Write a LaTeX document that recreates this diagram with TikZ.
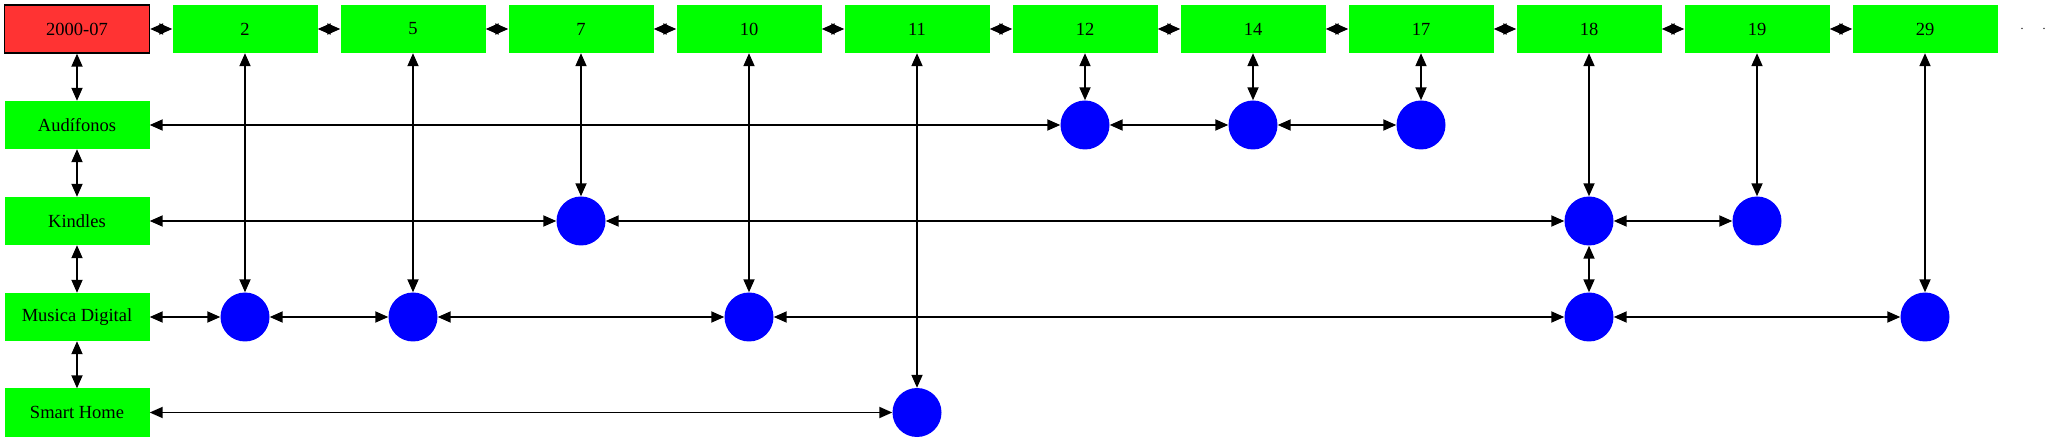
\documentclass[tikz,border=0pt]{standalone}
\usepackage{fontspec}
\setmainfont{Liberation Serif}
\usetikzlibrary{arrows.meta}
\definecolor{gbox}{RGB}{0,255,0}
\definecolor{rbox}{RGB}{255,51,51}
\definecolor{bdot}{RGB}{0,0,255}
\tikzset{
  box/.style={rectangle, fill=gbox, minimum width=145pt, minimum height=48pt, inner sep=0pt, font=\fontsize{18.5}{20}\selectfont},
  datebox/.style={box, fill=rbox, draw=black, line width=1.3pt},
  dotnode/.style={circle, fill=bdot, minimum size=49pt, inner sep=0pt},
  link/.style={line width=1.8pt, {Triangle[length=13pt,width=11pt]}-{Triangle[length=13pt,width=11pt]}}
}
\begin{document}
\begin{tikzpicture}[x=1pt,y=-1pt]
\useasboundingbox (0,0) rectangle (2051,443);
\def\cx#1{77+168*#1}
\node[datebox] (d) at (77,29) {2000-07};
\node[box] (t1) at ({\cx{1}},29) {2};
\node[box] (t2) at ({\cx{2}},29) {5};
\node[box] (t3) at ({\cx{3}},29) {7};
\node[box] (t4) at ({\cx{4}},29) {10};
\node[box] (t5) at ({\cx{5}},29) {11};
\node[box] (t6) at ({\cx{6}},29) {12};
\node[box] (t7) at ({\cx{7}},29) {14};
\node[box] (t8) at ({\cx{8}},29) {17};
\node[box] (t9) at ({\cx{9}},29) {18};
\node[box] (t10) at ({\cx{10}},29) {19};
\node[box] (t11) at ({\cx{11}},29) {29};
\node[font=\fontsize{12}{12}\selectfont, inner sep=0pt] (dots) at (2033,29) {.\hspace{19pt}.};

\node[box] (A) at (77,125) {Audífonos};
\node[box] (K) at (77,221) {Kindles};
\node[box] (M) at (77,317) {Musica Digital};
\node[box] (S) at (77,412.5) {Smart Home};

% Audifonos row
\node[dotnode] (a6) at ({\cx{6}},125) {};
\node[dotnode] (a7) at ({\cx{7}},125) {};
\node[dotnode] (a8) at ({\cx{8}},125) {};
% Kindles row
\node[dotnode] (k3) at ({\cx{3}},221) {};
\node[dotnode] (k9) at ({\cx{9}},221) {};
\node[dotnode] (k10) at ({\cx{10}},221) {};
% Musica row
\node[dotnode] (m1) at ({\cx{1}},317) {};
\node[dotnode] (m2) at ({\cx{2}},317) {};
\node[dotnode] (m4) at ({\cx{4}},317) {};
\node[dotnode] (m9) at ({\cx{9}},317) {};
\node[dotnode] (m11) at ({\cx{11}},317) {};
% Smart home row
\node[dotnode] (s5) at ({\cx{5}},412.5) {};

% top row chain
\draw[link] (d) -- (t1);
\draw[link] (t1) -- (t2);
\draw[link] (t2) -- (t3);
\draw[link] (t3) -- (t4);
\draw[link] (t4) -- (t5);
\draw[link] (t5) -- (t6);
\draw[link] (t6) -- (t7);
\draw[link] (t7) -- (t8);
\draw[link] (t8) -- (t9);
\draw[link] (t9) -- (t10);
\draw[link] (t10) -- (t11);

% first column
\draw[link] (d) -- (A);
\draw[link] (A) -- (K);
\draw[link] (K) -- (M);
\draw[link] (M) -- (S);

% row links
\draw[link] (A) -- (a6);
\draw[link] (a6) -- (a7);
\draw[link] (a7) -- (a8);
\draw[link] (K) -- (k3);
\draw[link] (k3) -- (k9);
\draw[link] (k9) -- (k10);
\draw[link] (M) -- (m1);
\draw[link] (m1) -- (m2);
\draw[link] (m2) -- (m4);
\draw[link] (m4) -- (m9);
\draw[link] (m9) -- (m11);
\draw[link] (S) -- (s5);

% vertical links
\draw[link] (t1) -- (m1);
\draw[link] (t2) -- (m2);
\draw[link] (t3) -- (k3);
\draw[link] (t4) -- (m4);
\draw[link] (t5) -- (s5);
\draw[link] (t6) -- (a6);
\draw[link] (t7) -- (a7);
\draw[link] (t8) -- (a8);
\draw[link] (t9) -- (k9);
\draw[link] (t10) -- (k10);
\draw[link] (k9) -- (m9);
\draw[link] (t11) -- (m11);
\end{tikzpicture}
\end{document}
